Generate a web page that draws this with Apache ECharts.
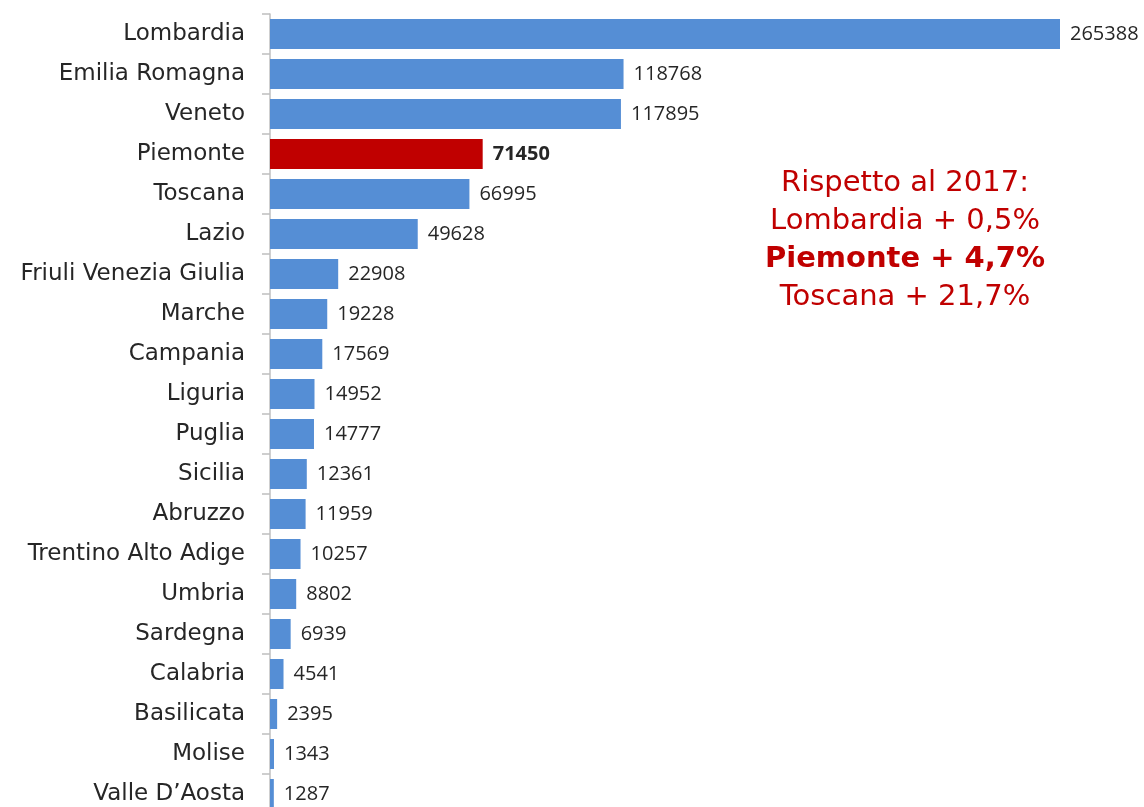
<!DOCTYPE html>
<html>
<head>
<meta charset="utf-8">
<script src="https://cdn.jsdelivr.net/npm/echarts@6/dist/echarts.min.js"></script>
<style>
  html, body { margin: 0; padding: 0; background: #fff; overflow: hidden; }
  #chart { width: 1144px; height: 814px; }
</style>
</head>
<body>
<div id="chart"></div>
<script>
const regions = ['Lombardia', 'Emilia Romagna', 'Veneto', 'Piemonte', 'Toscana', 'Lazio',
  'Friuli Venezia Giulia', 'Marche', 'Campania', 'Liguria', 'Puglia', 'Sicilia', 'Abruzzo',
  'Trentino Alto Adige', 'Umbria', 'Sardegna', 'Calabria', 'Basilicata', 'Molise', "Valle D\u2019Aosta"]
const values = [265388, 118768, 117895, 71450, 66995, 49628, 22908, 19228, 17569, 14952,
  14777, 12361, 11959, 10257, 8802, 6939, 4541, 2395, 1343, 1287]
const highlight = 'Piemonte'
const noteLines = ['Rispetto al 2017:', 'Lombardia + 0,5%', 'Piemonte + 4,7%', 'Toscana + 21,7%']

const blue = '#558ED5'
const red = '#C00000'
const labelFont = '"DejaVu Sans", sans-serif'

const chart = echarts.init(document.getElementById('chart'))

const barData = regions.map((name, i) => {
  const isHl = name === highlight
  return {
    value: values[i],
    itemStyle: { color: isHl ? red : blue },
    label: { fontWeight: isHl ? 'bold' : 'normal' }
  }
})

const option = {
  animation: false,
  grid: { left: 270, top: 14, width: 790, height: 800 },
  xAxis: {
    type: 'value',
    min: 0,
    max: values[0],
    show: false
  },
  yAxis: {
    type: 'category',
    data: regions,
    inverse: true,
    axisLine: { show: true, lineStyle: { color: '#BFBFBF', width: 1.5 } },
    axisTick: { show: true, length: 8, lineStyle: { color: '#BFBFBF', width: 1.5 } },
    axisLabel: {
      margin: 25,
      fontSize: 23,
      color: '#262626',
      fontFamily: labelFont
    }
  },
  series: [{
    type: 'bar',
    data: barData,
    barWidth: 30,
    label: {
      show: true,
      position: 'right',
      distance: 10,
      fontSize: 20,
      color: '#262626',
      fontFamily: '"Open Sans", sans-serif'
    }
  }],
  graphic: noteLines.map((t, i) => ({
    type: 'text',
    x: 905,
    y: 183 + i * 38,
    style: {
      text: t,
      align: 'center',
      verticalAlign: 'middle',
      fill: red,
      fontSize: 29,
      fontWeight: i === 2 ? 'bold' : 'normal',
      fontFamily: labelFont
    }
  }))
}

chart.setOption(option)
</script>
</body>
</html>
